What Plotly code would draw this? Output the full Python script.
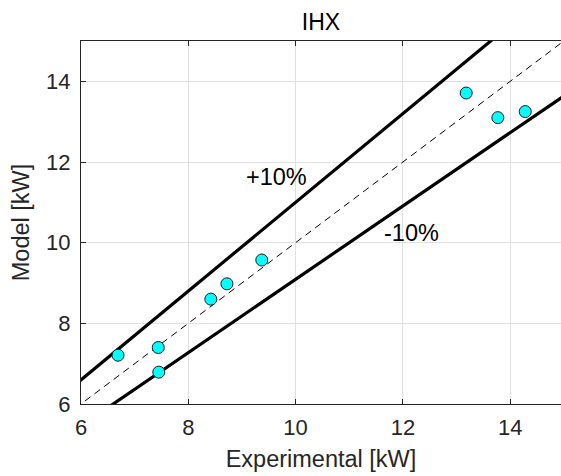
import plotly.graph_objects as go

# Measured vs. modelled IHX heat duty
experimental_kw = [6.69, 7.44, 7.45, 8.42, 8.72, 9.37, 13.18, 13.77, 14.28]
model_kw = [7.21, 7.40, 6.79, 8.60, 8.98, 9.57, 13.71, 13.10, 13.25]

# Parity line and the +/-10 % band
parity_x = [5.0, 16.0]
band_upper_factor = 1.1
band_lower_divisor = 1.1

x_ticks = [6, 8, 10, 12, 14]
y_ticks = [6, 8, 10, 12, 14]
x_range = [6, 14.947]
y_range = [6, 15]

FONT = "Liberation Sans, Helvetica, Arial, sans-serif"
AX_COLOR = "#262626"
TICK_SIZE = 22
LABEL_SIZE = 23.5

fig = go.Figure()

fig.add_trace(go.Scatter(
    x=parity_x, y=[v * band_upper_factor for v in parity_x],
    mode="lines", line=dict(color="black", width=3.2), showlegend=False))
fig.add_trace(go.Scatter(
    x=parity_x, y=[v / band_lower_divisor for v in parity_x],
    mode="lines", line=dict(color="black", width=3.2), showlegend=False))
fig.add_trace(go.Scatter(
    x=parity_x, y=parity_x,
    mode="lines", line=dict(color="black", width=1, dash="7px,5px"),
    showlegend=False))

fig.add_trace(go.Scatter(
    x=experimental_kw, y=model_kw, mode="markers",
    marker=dict(size=12, color="#00ffff", line=dict(color="#1a1a1a", width=1)),
    showlegend=False, cliponaxis=False))

fig.add_annotation(x=9.64, y=11.63, text="+10%", showarrow=False,
                   font=dict(family=FONT, size=LABEL_SIZE, color="black"))
fig.add_annotation(x=12.16, y=10.24, text="-10%", showarrow=False,
                   font=dict(family=FONT, size=LABEL_SIZE, color="black"))

fig.update_layout(
    width=561, height=476,
    margin=dict(l=81, r=0, t=41, b=72),
    paper_bgcolor="white", plot_bgcolor="white",
    font=dict(family=FONT, size=TICK_SIZE, color=AX_COLOR),
    title=dict(text="IHX", x=0.5, xref="paper", xanchor="center",
               y=1, yref="container", yanchor="top", pad=dict(t=14),
               font=dict(family=FONT, size=23, color="black")),
)

fig.update_xaxes(
    range=x_range, tickvals=x_ticks, ticks="inside", ticklen=5,
    tickcolor=AX_COLOR, showline=True, linecolor=AX_COLOR, linewidth=1,
    mirror="ticks", showgrid=True, gridcolor="#e0e0e0", gridwidth=1,
    zeroline=False, ticklabelstandoff=4,
    tickfont=dict(family=FONT, size=TICK_SIZE, color=AX_COLOR),
    title=dict(text="Experimental [kW]", standoff=11,
               font=dict(family=FONT, size=LABEL_SIZE, color=AX_COLOR)),
)
fig.update_yaxes(
    range=y_range, tickvals=y_ticks, ticks="inside", ticklen=5,
    tickcolor=AX_COLOR, showline=True, linecolor=AX_COLOR, linewidth=1,
    showgrid=True, gridcolor="#e0e0e0", gridwidth=1,
    zeroline=False, ticklabelstandoff=5,
    tickfont=dict(family=FONT, size=TICK_SIZE, color=AX_COLOR),
    title=dict(text="Model [kW]", standoff=9,
               font=dict(family=FONT, size=LABEL_SIZE, color=AX_COLOR)),
)

fig.write_html("out.html")
